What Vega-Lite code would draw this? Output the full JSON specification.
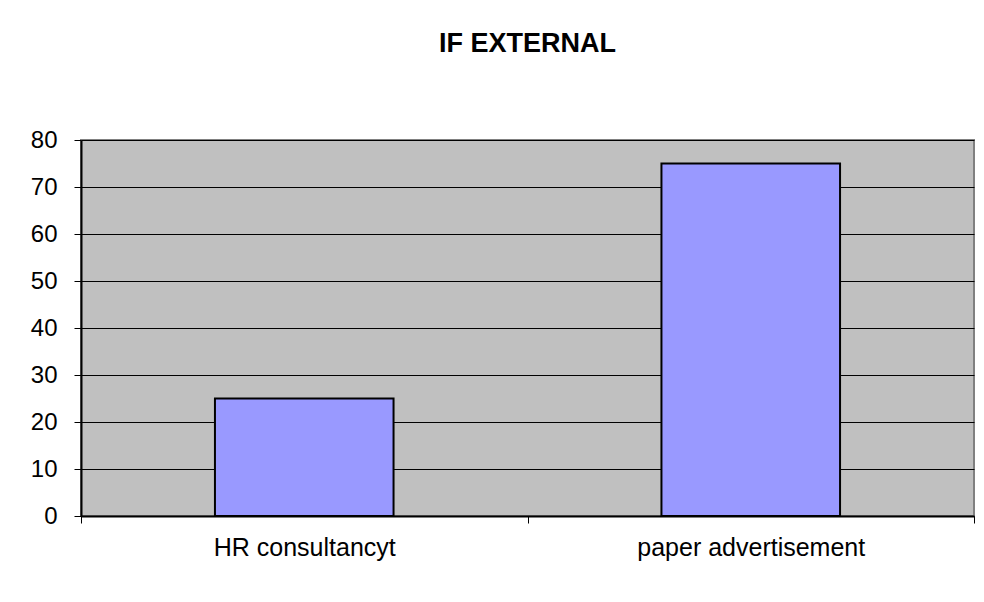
{
  "$schema": "https://vega.github.io/schema/vega-lite/v6.json",
  "autosize": {"type": "none"},
  "padding": {"left": 81, "top": 140, "right": 10, "bottom": 86},
  "width": 893,
  "height": 376,
  "background": "#ffffff",
  "title": {
    "text": "IF EXTERNAL",
    "font": "Liberation Sans",
    "fontSize": 27,
    "fontWeight": "bold",
    "color": "#000000",
    "anchor": "middle",
    "offset": 70
  },
  "data": {
    "values": [
      {"category": "HR consultancyt", "value": 25},
      {"category": "paper advertisement", "value": 75}
    ]
  },
  "mark": {"type": "bar", "color": "#9999FF", "stroke": "#000000", "strokeWidth": 2, "width": {"band": 0.4}},
  "encoding": {
    "x": {
      "field": "category",
      "type": "nominal",
      "sort": null,
      "scale": {"paddingInner": 0, "paddingOuter": 0},
      "axis": {
        "title": null,
        "labelAngle": 0,
        "labelFont": "Liberation Sans",
        "labelFontSize": 25,
        "labelColor": "#000000",
        "labelPadding": 12,
        "labelLimit": 0,
        "tickBand": "extent",
        "tickSize": 7,
        "tickColor": "#000000",
        "domainColor": "#000000",
        "domainWidth": 2,
        "grid": false
      }
    },
    "y": {
      "field": "value",
      "type": "quantitative",
      "scale": {"domain": [0, 80], "nice": false},
      "axis": {
        "title": null,
        "values": [0, 10, 20, 30, 40, 50, 60, 70, 80],
        "labelFont": "Liberation Sans",
        "labelFontSize": 24,
        "labelColor": "#000000",
        "labelPadding": 17,
        "tickSize": 7,
        "tickColor": "#000000",
        "domainColor": "#000000",
        "domainWidth": 2,
        "grid": true,
        "gridColor": "#000000",
        "gridOpacity": 1,
        "gridWidth": 1
      }
    }
  },
  "config": {
    "view": {"fill": "#C0C0C0", "stroke": "#808080", "strokeWidth": 2}
  }
}
